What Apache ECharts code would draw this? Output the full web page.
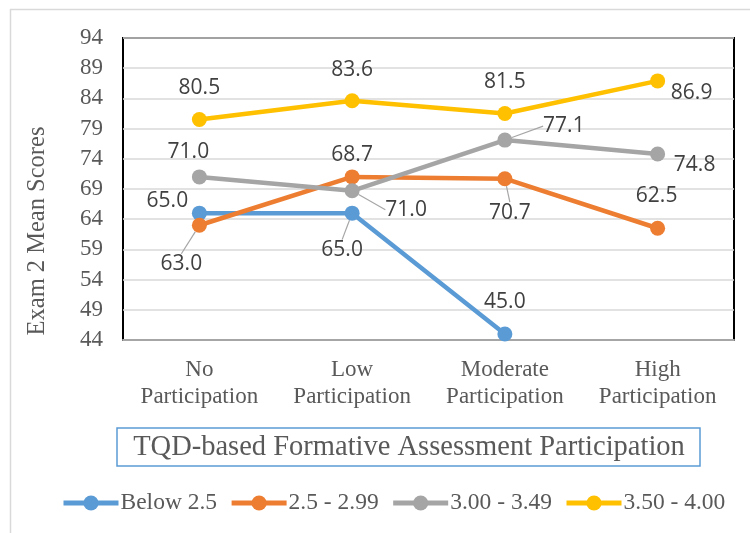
<!DOCTYPE html>
<html>
<head>
<meta charset="utf-8">
<script src="https://cdn.jsdelivr.net/npm/echarts@6/dist/echarts.min.js"></script>
<style>
  html, body { margin: 0; padding: 0; background: #fff; }
  #chart { width: 750px; height: 533px; }
</style>
</head>
<body>
<div id="chart"></div>
<script>
// ---- Data ----
const categories = ['No\nParticipation', 'Low\nParticipation', 'Moderate\nParticipation', 'High\nParticipation'];
const seriesNames = ['Below 2.5', '2.5 - 2.99', '3.00 - 3.49', '3.50 - 4.00'];
const below25 = [65.0, 65.0, 45.0, null];
const gpa25to299 = [63.0, 71.0, 70.7, 62.5];
const gpa300to349 = [71.0, 68.7, 77.1, 74.8];
const gpa350to400 = [80.5, 83.6, 81.5, 86.9];
// data label texts as printed on the chart
const below25Labels = ['65.0', '65.0', '45.0', ''];
const gpa25to299Labels = ['63.0', '68.7', '70.7', '62.5'];
const gpa300to349Labels = ['71.0', '71.0', '77.1', '74.8'];
const gpa350to400Labels = ['80.5', '83.6', '81.5', '86.9'];
const yTicks = { min: 44, max: 94, interval: 5 };
const yAxisTitle = 'Exam 2 Mean Scores';
const xAxisTitle = 'TQD-based Formative Assessment Participation';

// ---- Styling (label placement relative to each point) ----
const colors = ['#5B9BD5', '#ED7D31', '#A5A5A5', '#FFC000'];
const labelOffsets = [
  [[-32, -12], [-10, 37], [0, -32], [0, 0]],
  [[-18, 39], [0, -22], [5, 34], [-1, -32]],
  [[-11, -25], [54, 19], [59, -14], [37, 11]],
  [[0, -32], [0, -31], [0, -31], [34, 12]]
];
const leaderLines = [
  [false, true, false, false],
  [true, false, true, false],
  [false, true, true, false],
  [false, false, false, false]
];

const allData = [below25, gpa25to299, gpa300to349, gpa350to400];
const allLabels = [below25Labels, gpa25to299Labels, gpa300to349Labels, gpa350to400Labels];

const serif = '"Liberation Serif", "Times New Roman", serif';
const sans = '"Open Sans", "Noto Sans", sans-serif';

const series = allData.map((vals, si) => ({
  name: seriesNames[si],
  type: 'line',
  data: vals.map((v, di) => ({
    value: v,
    labelLine: { show: leaderLines[si][di] }
  })),
  connectNulls: false,
  symbol: 'circle',
  symbolSize: 15,
  color: colors[si],
  lineStyle: { width: 4.5, color: colors[si] },
  itemStyle: { color: colors[si] },
  label: {
    show: true,
    position: 'inside',
    fontFamily: sans,
    fontSize: 21,
    color: '#404040',
    formatter: p => allLabels[si][p.dataIndex]
  },
  labelLine: { show: false, lineStyle: { color: '#A6A6A6', width: 1.2 } },
  labelLayout: p => ({ dx: labelOffsets[si][p.dataIndex][0], dy: labelOffsets[si][p.dataIndex][1] }),
  emphasis: { disabled: true },
  animation: false
}));

const chart = echarts.init(document.getElementById('chart'));
chart.setOption({
  animation: false,
  grid: { left: 123, right: 16, top: 38, bottom: 193, show: true, borderColor: '#000', borderWidth: 2, containLabel: false },
  xAxis: {
    type: 'category',
    data: categories,
    boundaryGap: true,
    axisLine: { show: true, lineStyle: { color: '#A6A6A6', width: 2 } },
    axisTick: { show: false },
    axisLabel: { fontFamily: serif, fontSize: 23, color: '#595959', lineHeight: 27, margin: 16, interval: 0 },
    splitLine: { show: false }
  },
  yAxis: {
    type: 'value',
    min: yTicks.min,
    max: yTicks.max,
    interval: yTicks.interval,
    axisLine: { show: false },
    axisTick: { show: false },
    axisLabel: { fontFamily: serif, fontSize: 23, color: '#595959', margin: 20 },
    splitLine: { show: true, lineStyle: { color: '#D9D9D9', width: 1.5 } }
  },
  legend: {
    data: seriesNames,
    left: 56,
    top: 486,
    itemWidth: 55,
    itemHeight: 19,
    itemGap: 12,
    lineStyle: { width: 5 },
    textStyle: { fontFamily: serif, fontSize: 23.5, color: '#595959', padding: [0, 0, 0, -3] }
  },
  graphic: [
    { type: 'line', shape: { x1: 10, y1: 9.5, x2: 750, y2: 9.5 }, style: { stroke: '#D9D9D9', lineWidth: 1.5 }, silent: true },
    { type: 'line', shape: { x1: 10.5, y1: 9, x2: 10.5, y2: 533 }, style: { stroke: '#D9D9D9', lineWidth: 1.5 }, silent: true },
    { type: 'text', x: 38, y: 231, rotation: Math.PI / 2, style: { text: yAxisTitle, font: '24.5px ' + serif, fill: '#595959', align: 'center', verticalAlign: 'middle' }, silent: true },
    { type: 'rect', shape: { x: 117, y: 428, width: 583, height: 38 }, style: { fill: '#fff', stroke: '#5B9BD5', lineWidth: 1.5 }, silent: true },
    { type: 'text', x: 409, y: 447.5, style: { text: xAxisTitle, font: '28.5px ' + serif, fill: '#595959', align: 'center', verticalAlign: 'middle' }, silent: true }
  ],
  series: series
});
</script>
</body>
</html>
